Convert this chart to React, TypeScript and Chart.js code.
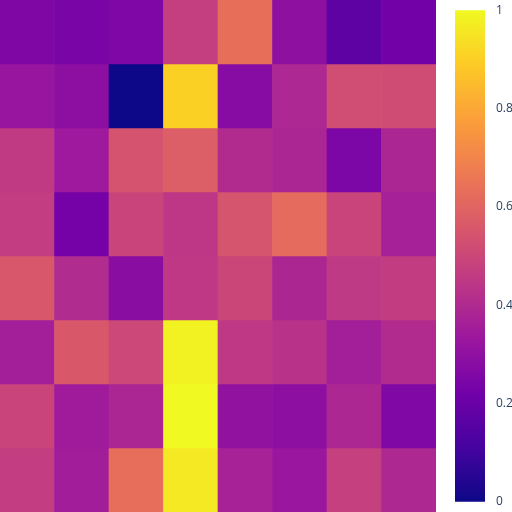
import React, { useEffect, useRef } from "react";
import { Chart, registerables } from "chart.js";

Chart.register(...registerables);

const columns = ["0", "1", "2", "3", "4", "5", "6", "7"];

const row0 = [0.256, 0.241, 0.255, 0.473, 0.635, 0.296, 0.172, 0.224];
const row1 = [0.322, 0.293, 0.0, 0.903, 0.278, 0.391, 0.522, 0.52];
const row2 = [0.456, 0.34, 0.543, 0.577, 0.404, 0.383, 0.25, 0.383];
const row3 = [0.465, 0.228, 0.49, 0.445, 0.545, 0.62, 0.49, 0.366];
const row4 = [0.556, 0.405, 0.285, 0.448, 0.497, 0.387, 0.454, 0.463];
const row5 = [0.357, 0.558, 0.502, 0.981, 0.447, 0.427, 0.357, 0.404];
const row6 = [0.49, 0.346, 0.383, 1.0, 0.306, 0.293, 0.39, 0.26];
const row7 = [0.467, 0.355, 0.63, 0.962, 0.37, 0.33, 0.474, 0.393];

const rows = [row0, row1, row2, row3, row4, row5, row6, row7];

const colorbarTicks = [0, 0.2, 0.4, 0.6, 0.8, 1];

const plasma = [
  "#0d0887",
  "#46039f",
  "#7201a8",
  "#9c179e",
  "#bd3786",
  "#d8576b",
  "#ed7953",
  "#fb9f3a",
  "#fdca26",
  "#f0f921",
];

function hexToRgb(h: string) {
  return [parseInt(h.slice(1, 3), 16), parseInt(h.slice(3, 5), 16), parseInt(h.slice(5, 7), 16)];
}

function plasmaColor(v: number) {
  const t = Math.max(0, Math.min(1, v)) * (plasma.length - 1);
  const i = Math.min(Math.floor(t), plasma.length - 2);
  const f = t - i;
  const a = hexToRgb(plasma[i]);
  const b = hexToRgb(plasma[i + 1]);
  const c = a.map((x, k) => Math.round(x + (b[k] - x) * f));
  return `rgb(${c[0]},${c[1]},${c[2]})`;
}

export default function App() {
  const heatRef = useRef<HTMLCanvasElement>(null);
  const barRef = useRef<HTMLCanvasElement>(null);

  useEffect(() => {
    const heat = new Chart(heatRef.current!, {
      type: "bar",
      data: {
        labels: columns,
        datasets: rows.map((row, r) => ({
          label: `row${r}`,
          data: row.map(() => [r, r + 1]) as any,
          backgroundColor: row.map((v) => plasmaColor(v)),
          borderWidth: 0,
          barPercentage: 1,
          categoryPercentage: 1,
          grouped: false,
        })),
      },
      options: {
        animation: false,
        responsive: false,
        devicePixelRatio: 1,
        layout: { padding: 0 },
        plugins: { legend: { display: false }, tooltip: { enabled: false } },
        scales: {
          x: { type: "category", display: false, offset: true },
          y: { type: "linear", min: 0, max: 8, reverse: true, display: false },
        },
      },
    });

    const bar = new Chart(barRef.current!, {
      type: "bar",
      data: {
        labels: ["cb"],
        datasets: [
          {
            data: [[0, 1]] as any,
            borderWidth: 0,
            barPercentage: 1,
            categoryPercentage: 1,
            backgroundColor: (ctx: any) => {
              const area = ctx.chart.chartArea;
              if (!area) return plasma[0];
              const g = ctx.chart.ctx.createLinearGradient(0, area.bottom, 0, area.top);
              plasma.forEach((c, i) => g.addColorStop(i / (plasma.length - 1), c));
              return g;
            },
          },
        ],
      },
      options: {
        animation: false,
        responsive: false,
        devicePixelRatio: 1,
        layout: { padding: { top: 10, bottom: 10, left: 0, right: 0 } },
        plugins: { legend: { display: false }, tooltip: { enabled: false } },
        scales: {
          x: { type: "category", display: false, offset: true },
          y: {
            type: "linear",
            position: "right",
            min: 0,
            max: 1,
            grid: { display: false },
            border: { display: false },
            afterFit: (scale: any) => {
              scale.width = 27;
            },
            afterBuildTicks: (scale: any) => {
              scale.ticks = colorbarTicks.map((v) => ({ value: v }));
            },
            ticks: {
              padding: 3,
              color: "#2a3f5f",
              font: { family: "'Open Sans', sans-serif", size: 12 },
              callback: (v: any) => String(Math.round(Number(v) * 10) / 10),
            },
          },
        },
      },
    });

    return () => {
      heat.destroy();
      bar.destroy();
    };
  }, []);

  return (
    <div style={{ position: "fixed", left: 0, top: 0, width: 512, height: 512, background: "#fff" }}>
      <canvas ref={heatRef} width={436} height={512} style={{ position: "absolute", left: 0, top: 0 }} />
      <canvas ref={barRef} width={57} height={512} style={{ position: "absolute", left: 455, top: 0 }} />
    </div>
  );
}
